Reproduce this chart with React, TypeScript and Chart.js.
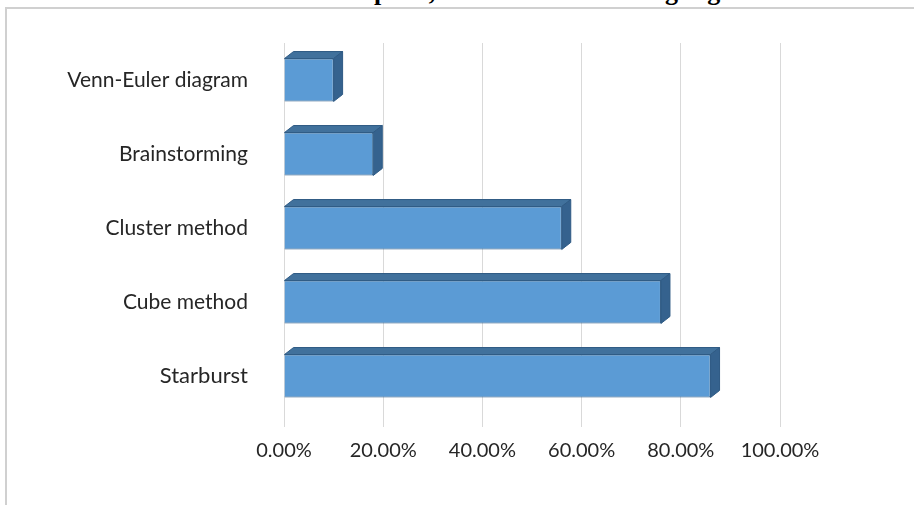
import React, { useEffect, useRef } from "react";
import { Chart, registerables } from "chart.js";

Chart.register(...registerables);

const titleText = "and Literature discipline, in the online learning regime";
const categories = ["Venn-Euler diagram", "Brainstorming", "Cluster method", "Cube method", "Starburst"];
const shares = [0.10, 0.18, 0.56, 0.76, 0.86];
const tickValues = [0, 0.2, 0.4, 0.6, 0.8, 1.0];

const extrude = {
  id: "extrude",
  afterDatasetsDraw(chart: any) {
    const ctx = chart.ctx;
    const meta = chart.getDatasetMeta(0);
    const dx = 9;
    const dy = 7;
    ctx.save();
    meta.data.forEach((bar: any) => {
      const { x, y, base, height } = bar.getProps(["x", "y", "base", "height"], true);
      const top = y - height / 2;
      const bottom = y + height / 2;
      ctx.beginPath();
      ctx.moveTo(base, top);
      ctx.lineTo(base + dx, top - dy);
      ctx.lineTo(x + dx, top - dy);
      ctx.lineTo(x, top);
      ctx.closePath();
      ctx.fillStyle = "#41719C";
      ctx.fill();
      ctx.strokeStyle = "#2E5A84";
      ctx.lineWidth = 1;
      ctx.stroke();
      ctx.beginPath();
      ctx.moveTo(x, top);
      ctx.lineTo(x + dx, top - dy);
      ctx.lineTo(x + dx, bottom - dy);
      ctx.lineTo(x, bottom);
      ctx.closePath();
      ctx.fillStyle = "#35628E";
      ctx.fill();
      ctx.stroke();
    });
    ctx.restore();
  },
};

export default function App() {
  const canvasRef = useRef<HTMLCanvasElement | null>(null);

  useEffect(() => {
    document.body.style.margin = "0";
    const canvas = canvasRef.current;
    if (!canvas) return;
    const chart = new Chart(canvas, {
      type: "bar",
      data: {
        labels: categories,
        datasets: [
          {
            data: shares,
            backgroundColor: "#5B9BD5",
            borderColor: "#2E5A84",
            borderWidth: 1,
            categoryPercentage: 1,
            barPercentage: 0.58,
          },
        ],
      },
      plugins: [extrude],
      options: {
        indexAxis: "y",
        animation: false,
        responsive: false,
        maintainAspectRatio: false,
        layout: { padding: { left: 0, right: 134, top: 43, bottom: 0 } },
        plugins: {
          legend: { display: false },
          tooltip: { enabled: false },
          title: { display: false },
        },
        scales: {
          x: {
            min: 0,
            max: 1,
            afterBuildTicks: (scale: any) => {
              scale.ticks = tickValues.map((v) => ({ value: v }));
            },
            afterFit: (scale: any) => {
              scale.height = 92;
            },
            grid: {
              color: "#D9D9D9",
              lineWidth: 1,
              drawTicks: true,
              tickLength: 14,
            },
            border: { display: false },
            ticks: {
              padding: 12,
              color: "#262626",
              font: { family: "Lato", size: 20 },
              callback: (v: any) => (Number(v) * 100).toFixed(2) + "%",
            },
          },
          y: {
            afterFit: (scale: any) => {
              scale.width = 284;
            },
            grid: { display: false },
            border: { display: true, color: "#D9D9D9" },
            ticks: {
              padding: 28,
              color: "#262626",
              font: (c: any) => ({ family: "Lato", size: c.index === 4 ? 22 : 21 }),
            },
          },
        },
      },
    });
    return () => chart.destroy();
  }, []);

  return (
    <div style={{ position: "relative", width: 914, height: 505, overflow: "hidden", background: "#fff" }}>
      <div
        style={{
          position: "absolute",
          top: -21,
          left: 0,
          width: 914,
          textAlign: "center",
          fontFamily: "'Liberation Serif', 'Times New Roman', serif",
          fontWeight: "bold",
          fontSize: 26,
          lineHeight: "26px",
          whiteSpace: "nowrap",
        }}
      >
        {titleText}
      </div>
      <div
        style={{
          position: "absolute",
          left: 5,
          top: 7,
          width: 920,
          height: 520,
          borderLeft: "2px solid #D0D0D0",
          borderTop: "2px solid #D0D0D0",
        }}
      />
      <canvas ref={canvasRef} width={914} height={505} style={{ position: "absolute", left: 0, top: 0 }} />
    </div>
  );
}
